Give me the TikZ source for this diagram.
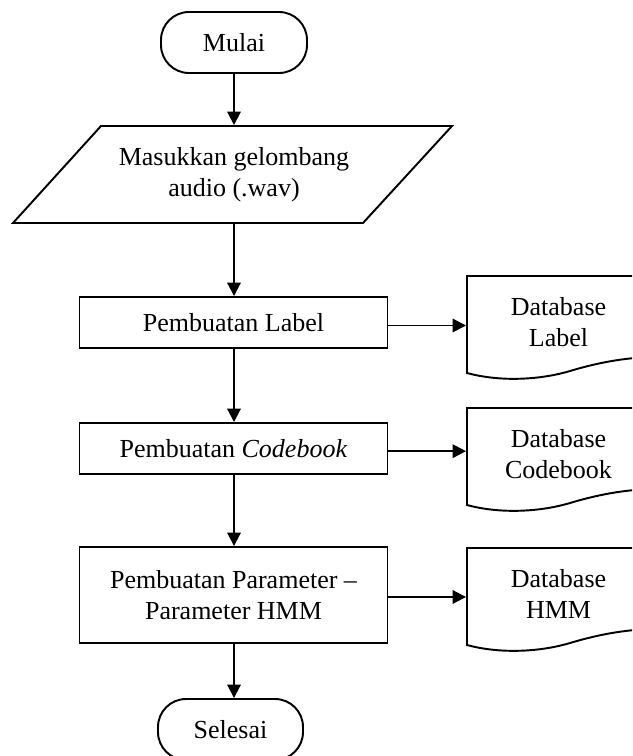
\documentclass[tikz,border=0pt]{standalone}
\usepackage{fontspec}
\setmainfont{Liberation Serif}
\usetikzlibrary{arrows.meta}
\begin{document}
\begin{tikzpicture}[x=0.75pt,y=-0.75pt,
  line width=1.45pt,
  every node/.style={font=\fontsize{19.5}{23.25}\selectfont, align=center, inner sep=0pt},
  arr/.style={-{Triangle[length=10pt,width=10pt]}},
  term/.style={draw, rounded corners=21pt, minimum width=109.5pt, minimum height=45.75pt},
  proc/.style={draw, minimum width=231pt},
  dbtext/.style={minimum width=137.25pt, minimum height=72.75pt}
]
\useasboundingbox (0,0) rectangle (632,756);
\clip (0,0) rectangle (632,756);

% start / end terminals
\node[term] (mulai) at (234,42.5) {Mulai};
\node[term, minimum width=108.75pt] (selesai) at (230.5,729.5) {Selesai};

% input (parallelogram)
\node[minimum height=72.75pt] (inp) at (234,174.5) {Masukkan gelombang\\audio (.wav)};
\draw (101,126) -- (452,126) -- (363,223) -- (13,223) -- cycle;

% process boxes
\node[proc, minimum height=38.25pt] (lab) at (233.5,322.5) {Pembuatan Label};
\node[proc, minimum height=38.25pt] (cb) at (233.5,448.5) {Pembuatan \textit{Codebook}};
\node[proc, minimum height=72pt] (hmm) at (233.5,595) {Pembuatan Parameter --\\Parameter HMM};

% stored data (document shapes)
\foreach \t in {276,408,548} {
  \draw (467,\t+97) .. controls (500,\t+106) and (540,\t+104) .. (570,\t+95)
        .. controls (600,\t+86) and (625,\t+82) .. (650,\t+81)
        -- (650,\t) -- (467,\t) -- cycle;
}
\node[dbtext] (dbl) at (558.5,322) {Database\\Label};
\node[dbtext] (dbc) at (558.5,454) {Database\\Codebook};
\node[dbtext] (dbh) at (558.5,594) {Database\\HMM};

% flow
\draw[arr] (mulai.south) -- (mulai.south |- inp.north);
\draw[arr] (inp.south) -- (inp.south |- lab.north);
\draw[arr] (lab.south -| inp.south) -- (inp.south |- cb.north);
\draw[arr] (cb.south -| inp.south) -- (inp.south |- hmm.north);
\draw[arr] (hmm.south -| inp.south) -- (inp.south |- selesai.north);

\draw[arr] ([yshift=-2.25pt]lab.east) -- ([yshift=-2.25pt]lab.east -| dbl.west);
\draw[arr] ([yshift=-2pt]cb.east) -- ([yshift=-2pt]cb.east -| dbc.west);
\draw[arr] ([yshift=-1.5pt]hmm.east) -- ([yshift=-1.5pt]hmm.east -| dbh.west);
\end{tikzpicture}
\end{document}
